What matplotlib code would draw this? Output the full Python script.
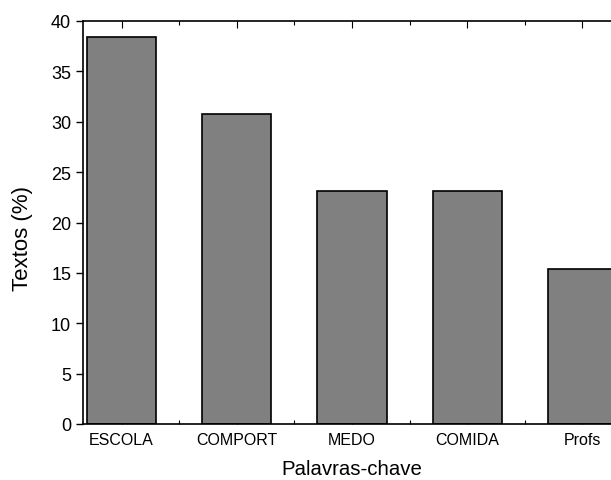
import numpy as np
import matplotlib.pyplot as plt
from matplotlib.ticker import MultipleLocator

plt.rcParams['font.family'] = ['Liberation Sans', 'DejaVu Sans']

# keywords and share of texts (%)
palavras = ['ESCOLA', 'COMPORT', 'MEDO', 'COMIDA', 'Profs']
textos = [38.46, 30.77, 23.08, 23.08, 15.38]

fig = plt.figure(figsize=(6.11, 4.81), dpi=100)
# axis frame runs slightly past the right border of the figure
ax = fig.add_axes([83 / 611, 1 - 425 / 481, (621 - 83) / 611, (425 - 22) / 481])

x = np.arange(len(palavras))
ax.bar(x, textos, width=0.6, color='#808080', edgecolor='black', linewidth=1.2, zorder=2)

ax.set_xlim(-0.335, len(palavras) - 1 + 0.335)
ax.set_ylim(0, 40)
ax.set_xticks(x)
ax.set_xticklabels(palavras, fontsize=11.5)
ax.xaxis.set_minor_locator(MultipleLocator(0.5))
ax.yaxis.set_major_locator(MultipleLocator(5))
ax.tick_params(axis='y', labelsize=13, direction='out', length=5, width=1)
ax.tick_params(axis='x', which='both', direction='in', top=True, bottom=True,
               length=5, width=0.8, pad=6)
ax.tick_params(axis='x', which='minor', length=3)

# bottom ticks are barely visible, top ones are black
for t in ax.xaxis.get_major_ticks() + ax.xaxis.get_minor_ticks():
    t.tick1line.set_color('#c8c8c8')

for s in ax.spines.values():
    s.set_linewidth(1.2)

ax.set_xlabel('Palavras-chave', fontsize=14.7)
ax.set_ylabel('Textos (%)', fontsize=16)
ax.xaxis.set_label_coords(0.5, -0.087)
ax.yaxis.set_label_coords(-0.093, 0.462)

fig.savefig('out.png', dpi=100)
